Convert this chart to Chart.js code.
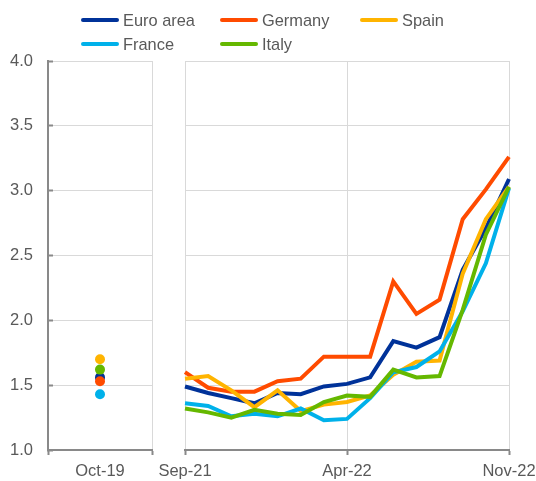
<!DOCTYPE html>
<html>
<head>
<meta charset="utf-8">
<script src="https://cdn.jsdelivr.net/npm/chart.js@4/dist/chart.umd.min.js"></script>
<style>
html,body{margin:0;padding:0;background:#fff;}
#wrap{position:relative;width:536px;height:481px;overflow:hidden;background:#fff;}
#wrap canvas{position:absolute;left:0;top:0;}
#legend{position:absolute;left:0;top:0;width:536px;height:56px;font-family:Arial,"Liberation Sans",sans-serif;font-size:16.4px;color:#595959;}
.item{position:absolute;display:flex;align-items:center;white-space:nowrap;height:20px;}
.sw{width:38px;height:4px;border-radius:2px;margin-right:4px;}
</style>
</head>
<body>
<div id="wrap">
  <canvas id="leftChart" width="536" height="481"></canvas>
  <canvas id="rightChart" width="536" height="481"></canvas>
  <div id="legend"></div>
</div>
<script>
// ---- data ----
const months = ['Sep-21','Oct-21','Nov-21','Dec-21','Jan-22','Feb-22','Mar-22','Apr-22','May-22','Jun-22','Jul-22','Aug-22','Sep-22','Oct-22','Nov-22'];
const shownMonthLabels = ['Sep-21','Apr-22','Nov-22'];
const refPeriod = ['Oct-19'];
const seriesNames = ['Euro area','Germany','Spain','France','Italy'];
const seriesColors = ['#003299','#FF4B00','#FFB400','#00B1EA','#65B800'];

const euroArea = [1.49, 1.44, 1.40, 1.36, 1.44, 1.43, 1.49, 1.51, 1.56, 1.84, 1.79, 1.87, 2.39, 2.71, 3.09];
const germany  = [1.60, 1.48, 1.45, 1.45, 1.53, 1.55, 1.72, 1.72, 1.72, 2.30, 2.05, 2.16, 2.78, 3.01, 3.26];
const spain    = [1.55, 1.57, 1.46, 1.33, 1.46, 1.30, 1.35, 1.37, 1.42, 1.58, 1.68, 1.69, 2.36, 2.78, 3.03];
const france   = [1.36, 1.34, 1.26, 1.28, 1.26, 1.32, 1.23, 1.24, 1.40, 1.60, 1.64, 1.76, 2.07, 2.44, 3.02];
const italy    = [1.32, 1.29, 1.25, 1.31, 1.28, 1.27, 1.37, 1.42, 1.41, 1.62, 1.56, 1.57, 2.08, 2.66, 3.03];
const seriesValues = [euroArea, germany, spain, france, italy];

// Oct-19 reference values: Euro area, Germany, Spain, France, Italy
const oct19Values = [1.56, 1.53, 1.70, 1.43, 1.62];

const yMin = 1.0, yMax = 4.0, yStep = 0.5;

// ---- styles ----
const GRID = '#d9d9d9';
const AXIS = '#898989';
Chart.defaults.font.family = 'Arial, "Liberation Sans", sans-serif';
Chart.defaults.font.size = 16.5;
Chart.defaults.color = '#595959';

function zeroPad(scale){ scale.paddingLeft = 0; scale.paddingRight = 0; scale.paddingTop = 0; scale.paddingBottom = 0; }

// ---- left panel (Oct-19) ----
new Chart(document.getElementById('leftChart'), {
  type: 'line',
  data: {
    labels: refPeriod,
    datasets: seriesNames.map((n, i) => ({
      label: n,
      data: [oct19Values[i]],
      showLine: false,
      pointRadius: 5,
      pointBorderWidth: 0,
      pointBackgroundColor: seriesColors[i],
      borderColor: seriesColors[i],
      order: seriesNames.length - i
    }))
  },
  options: {
    responsive: false,
    animation: false,
    layout: { padding: { left: 0, right: 536 - 152, top: 61, bottom: 0 } },
    plugins: { legend: { display: false }, tooltip: { enabled: false } },
    scales: {
      x: {
        offset: true,
        grid: {
          offset: true,
          color: ctx => ctx.index === 0 ? 'rgba(0,0,0,0)' : GRID,
          tickColor: AXIS, tickLength: 5, tickWidth: 2
        },
        border: { color: AXIS, width: 2 },
        ticks: { padding: 7, maxRotation: 0 },
        afterFit: s => { s.height = 31; zeroPad(s); }
      },
      y: {
        min: yMin, max: yMax,
        grid: {
          color: ctx => (ctx.tick && ctx.tick.value === yMin) ? 'rgba(0,0,0,0)' : GRID,
          tickColor: AXIS, tickLength: -5, tickWidth: 2
        },
        border: { color: AXIS, width: 2 },
        ticks: { stepSize: yStep, padding: 20, callback: v => Number(v).toFixed(1) },
        afterFit: s => { s.width = 48; zeroPad(s); }
      }
    }
  }
});

// ---- right panel (Sep-21 to Nov-22) ----
new Chart(document.getElementById('rightChart'), {
  type: 'line',
  data: {
    labels: months,
    datasets: seriesNames.map((n, i) => ({
      label: n,
      data: seriesValues[i],
      borderColor: seriesColors[i],
      backgroundColor: seriesColors[i],
      borderWidth: 4,
      pointRadius: 0,
      tension: 0,
      fill: false,
      order: seriesNames.length - i
    }))
  },
  options: {
    responsive: false,
    animation: false,
    layout: { padding: { left: 185, right: 536 - 509, top: 61, bottom: 0 } },
    plugins: { legend: { display: false }, tooltip: { enabled: false } },
    scales: {
      x: {
        offset: false,
        grid: {
          color: ctx => shownMonthLabels.includes(months[ctx.index]) ? GRID : 'rgba(0,0,0,0)',
          tickColor: ctx => shownMonthLabels.includes(months[ctx.index]) ? AXIS : 'rgba(0,0,0,0)',
          tickLength: 5, tickWidth: 2
        },
        border: { color: AXIS, width: 2 },
        ticks: {
          autoSkip: false, maxRotation: 0, minRotation: 0, padding: 7,
          callback: (v, i) => shownMonthLabels.includes(months[i]) ? months[i] : ''
        },
        afterFit: s => { s.height = 31; zeroPad(s); }
      },
      y: {
        min: yMin, max: yMax,
        grid: {
          color: ctx => (ctx.tick && ctx.tick.value === yMin) ? 'rgba(0,0,0,0)' : GRID,
          drawTicks: false
        },
        border: { display: false },
        ticks: { display: false, stepSize: yStep },
        afterFit: s => { s.width = 0; zeroPad(s); }
      }
    }
  }
});

// ---- legend (HTML, built from the series arrays) ----
const legendPos = [[81, 10], [220, 10], [360, 10], [81, 34], [220, 34]];
const legendEl = document.getElementById('legend');
seriesNames.forEach((n, i) => {
  const it = document.createElement('div');
  it.className = 'item';
  it.style.left = legendPos[i][0] + 'px';
  it.style.top = legendPos[i][1] + 'px';
  const sw = document.createElement('span');
  sw.className = 'sw';
  sw.style.background = seriesColors[i];
  const tx = document.createElement('span');
  tx.textContent = n;
  it.appendChild(sw); it.appendChild(tx);
  legendEl.appendChild(it);
});
</script>
</body>
</html>
